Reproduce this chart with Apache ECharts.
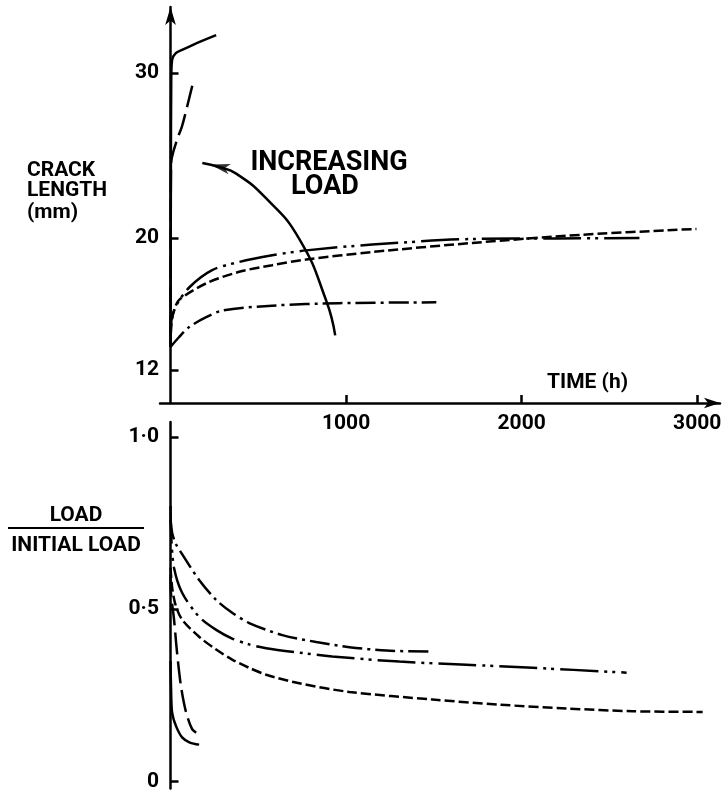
<!DOCTYPE html>
<html>
<head>
<meta charset="utf-8">
<script src="https://cdn.jsdelivr.net/npm/echarts@6/dist/echarts.min.js"></script>
<style>html,body{margin:0;padding:0;background:#fff}#chart{width:726px;height:792px}</style>
</head>
<body>
<div id="chart"></div>
<script>
var FONT = 'Roboto';

// tick values
var timeTicks = [1000, 2000, 3000];
var crackTicks = [12, 20, 30];
var loadTicks = [0, 0.5, 1.0];

// top panel: crack length (mm) against time (h)
var crackSolid = [[0,14],[2,24],[4,29.5],[9,30.8],[30,31.2],[66,31.4],[146,31.8],[260,32.3]];
var crackLongDash = [[0,14],[1,20],[3,24.5],[32,25.8],[66,26.8],[100,28.2],[130,29.5]];
var crackDashDotDot = [[0,13.4],[5,15.0],[32,15.9],[106,17.0],[237,18.05],[391,18.55],[579,18.95],[773,19.25],[1149,19.6],[1719,19.94],[2200,19.97],[2671,20.0]];
var crackDashed = [[0,13.4],[5,14.8],[20,15.6],[49,16.25],[203,17.25],[391,17.95],[579,18.35],[773,18.7],[1149,19.15],[1719,19.7],[2347,20.2],[2996,20.55]];
var crackDashDot = [[0,13.4],[49,14.0],[106,14.6],[203,15.2],[294,15.6],[579,15.9],[961,16.05],[1514,16.1]];

// "increasing load" arrow, in (time, crack length)
var loadArrow = [[181,24.55],[277,24.3],[374,23.9],[545,22.4],[733,19.95],[887,16.2],[938,14.1]];
var arrowHead = [[226,24.45]];

// bottom panel: load / initial load against time (h)
var loadSolid = [[0,0.35],[3,0.27],[9,0.2],[32,0.16],[66,0.128],[110,0.113],[163,0.107]];
var loadLongDash = [[0,0.6],[2,0.55],[20,0.47],[38,0.37],[60,0.275],[89,0.2],[123,0.152],[146,0.142]];
var loadDashDotDot = [[0,0.8],[5,0.7],[20,0.62],[66,0.548],[163,0.478],[260,0.44],[351,0.415],[448,0.398],[545,0.387],[733,0.374],[921,0.363],[1303,0.348],[1685,0.339],[2063,0.33],[2598,0.316]];
var loadDashed = [[0,0.62],[10,0.56],[30,0.51],[66,0.47],[163,0.42],[260,0.383],[351,0.354],[448,0.33],[545,0.31],[733,0.285],[1019,0.26],[1492,0.238],[1874,0.223],[2256,0.212],[2632,0.204],[3031,0.202]];
var loadDashDot = [[0,0.76],[10,0.72],[30,0.69],[66,0.66],[163,0.585],[260,0.527],[351,0.49],[448,0.46],[637,0.425],[830,0.405],[1019,0.39],[1230,0.38],[1492,0.377]];

var DASHED = [10, 4];
var DASHDOT = [20, 5, 3, 5];
var DASHDOTDOT = [38, 6, 3, 5, 3, 6];
var LONGDASH = [22, 7];

var black = '#000';
var axisLineStyle = {color: black, width: 2.5};
var labelStyle = {color: black, fontSize: 21, fontFamily: FONT, fontWeight: 'bold'};

function curve(name, data, dash, idx) {
    return {
        name: name, type: 'line', xAxisIndex: idx, yAxisIndex: idx,
        data: data, showSymbol: false, symbol: 'none',
        smooth: 0.3, silent: true,
        lineStyle: {color: black, width: 2.5, type: dash}
    };
}

function label(text, x, y, size, align) {
    return {
        type: 'text', x: x, y: y,
        style: {text: text, fill: black, font: 'bold ' + size + 'px ' + FONT,
                textAlign: align || 'left', textVerticalAlign: 'middle'}
    };
}

function loadFmt(v) {
    return v === 0 ? '0' : v.toFixed(1).replace('.', '·');
}

var option = {
    animation: false,
    backgroundColor: '#fff',
    grid: [
        {left: 160, right: 6, top: 7, height: 396},
        {left: 160, right: 6, top: 422, height: 367}
    ],
    xAxis: [
        {
            type: 'value', gridIndex: 0, min: -60, max: 3130,
            splitLine: {show: false},
            axisLine: {onZero: false, symbol: ['none', 'arrow'], symbolSize: [8, 16], lineStyle: axisLineStyle},
            axisTick: {inside: true, length: 8, customValues: timeTicks, lineStyle: axisLineStyle},
            axisLabel: Object.assign({customValues: timeTicks, margin: 10, formatter: function (v) { return String(v); }}, labelStyle)
        },
        {type: 'value', gridIndex: 1, min: -60, max: 3130, show: false, splitLine: {show: false}}
    ],
    yAxis: [
        {
            type: 'value', gridIndex: 0, min: 10, max: 34,
            splitLine: {show: false},
            axisLine: {show: true, onZero: true, symbol: ['none', 'arrow'], symbolSize: [8, 18], lineStyle: axisLineStyle},
            axisTick: {show: true, inside: true, length: 8, customValues: crackTicks, lineStyle: axisLineStyle},
            axisLabel: Object.assign({customValues: crackTicks, margin: 1}, labelStyle)
        },
        {
            type: 'value', gridIndex: 1, min: -0.0203, max: 1.0435,
            splitLine: {show: false},
            axisLine: {show: true, onZero: true, lineStyle: axisLineStyle},
            axisTick: {show: true, inside: true, length: 8, customValues: loadTicks, lineStyle: axisLineStyle},
            axisLabel: Object.assign({customValues: loadTicks, margin: 1, formatter: loadFmt}, labelStyle)
        }
    ],
    graphic: [
        label('CRACK', 27, 171, 21),
        label('LENGTH', 27, 191, 21),
        label('(mm)', 27, 213, 21),
        label('INCREASING', 329, 163, 27, 'center'),
        label('LOAD', 325, 187, 27, 'center'),
        label('TIME (h)', 547, 383, 21),
        label('LOAD', 76, 516, 21, 'center'),
        {type: 'line', shape: {x1: 8, y1: 528, x2: 144, y2: 528}, style: {stroke: black, lineWidth: 2}},
        label('INITIAL LOAD', 76, 546, 21, 'center')
    ],
    series: [
        curve('crack solid', crackSolid, 'solid', 0),
        curve('crack long dash', crackLongDash, LONGDASH, 0),
        curve('crack dash-dot-dot', crackDashDotDot, DASHDOTDOT, 0),
        curve('crack dashed', crackDashed, DASHED, 0),
        curve('crack dash-dot', crackDashDot, DASHDOT, 0),
        {
            name: 'increasing load', type: 'line', xAxisIndex: 0, yAxisIndex: 0,
            data: loadArrow, showSymbol: false, symbol: 'none', smooth: 0.5, silent: true,
            lineStyle: {color: black, width: 2.5}
        },
        {
            name: 'arrow head', type: 'scatter', xAxisIndex: 0, yAxisIndex: 0,
            data: arrowHead, symbol: 'arrow', symbolSize: [8, 20], symbolRotate: 77, silent: true,
            itemStyle: {color: black}
        },
        curve('load solid', loadSolid, 'solid', 1),
        curve('load long dash', loadLongDash, LONGDASH, 1),
        curve('load dash-dot-dot', loadDashDotDot, DASHDOTDOT, 1),
        curve('load dashed', loadDashed, DASHED, 1),
        curve('load dash-dot', loadDashDot, DASHDOT, 1)
    ]
};

var mychart = echarts.init(document.getElementById('chart'));
mychart.setOption(option);
</script>
</body>
</html>
